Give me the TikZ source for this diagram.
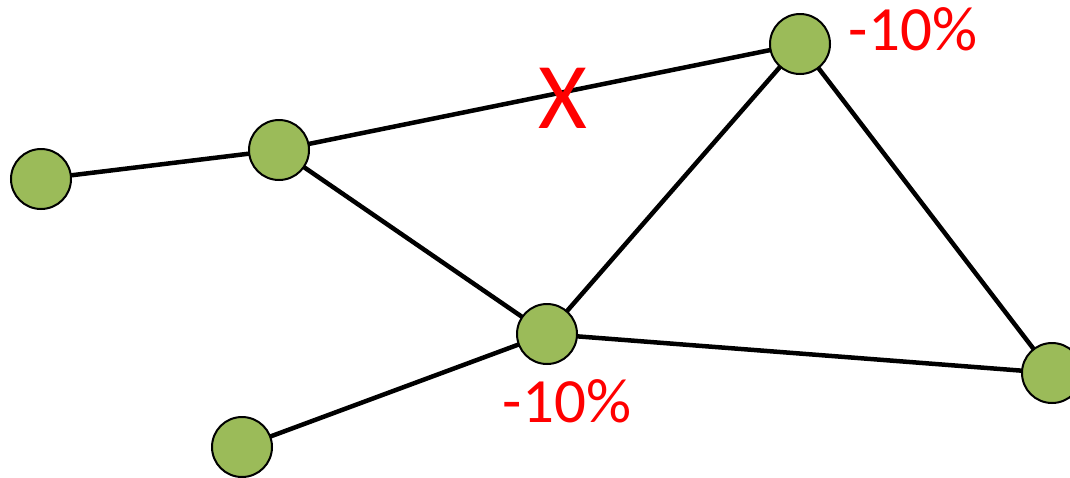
\documentclass[tikz,border=0pt]{standalone}
\usepackage{fontspec}
\setmainfont{Carlito}
\usetikzlibrary{positioning}
\definecolor{nodegreen}{HTML}{9BBB59}

\begin{document}
\begin{tikzpicture}[x=1pt, y=-1pt,
    site/.style={circle, draw=black, line width=2pt, fill=nodegreen, minimum size=60pt, inner sep=0pt},
    link/.style={line width=4.5pt},
    loss/.style={text=red, font=\fontsize{63}{63}\selectfont, anchor=base, inner sep=0pt}]
    \useasboundingbox (0,0) rectangle (1070,477);
    % links first, so the circles sit on top
    \coordinate (a) at (41,179);
    \coordinate (b) at (279,150);
    \coordinate (c) at (800,44);
    \coordinate (d) at (547,334);
    \coordinate (e) at (242,447);
    \coordinate (f) at (1052,373);
    \draw[link] (a) -- (b);
    \draw[link] (b) -- (c);
    \draw[link] (b) -- (d);
    \draw[link] (d) -- (c);
    \draw[link] (c) -- (f);
    \draw[link] (d) -- (f);
    \draw[link] (e) -- (d);
    \node (siteA) [site] at (a) {};
    \node (siteB) [site] at (b) {};
    \node (siteC) [site] at (c) {};
    \node (siteD) [site] at (d) {};
    \node (siteE) [site] at (e) {};
    \node (siteF) [site] at (f) {};
    % labels
    \node (lossC) [loss] at (913,50) {-10\%};
    \node (lossD) [loss] at (567,422) {-10\%};
    \node (cut) [text=red, font=\fontsize{94}{94}\selectfont, anchor=base, inner sep=0pt] at (563,128) {X};
\end{tikzpicture}
\end{document}
